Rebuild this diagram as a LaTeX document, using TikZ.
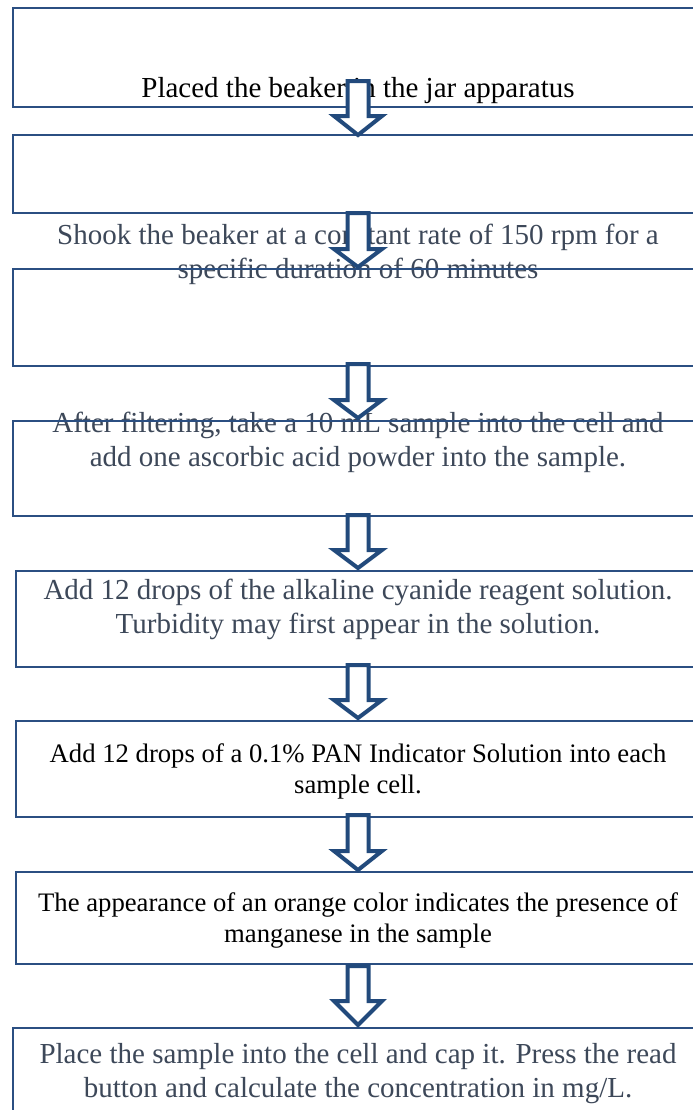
\documentclass[tikz,border=0pt]{standalone}
\usepackage{fontspec}
\setmainfont{Liberation Serif}
\definecolor{boxblue}{HTML}{2B4F82}
\definecolor{arrowblue}{HTML}{224A7C}
\definecolor{textgrey}{HTML}{3D4859}
\tikzset{
  stepbox/.style={draw=boxblue, line width=2.6bp, rectangle, inner sep=0pt, outer sep=0pt,
    anchor=north west, minimum width=700bp},
  steptext/.style={align=center, anchor=base, inner sep=0pt,
    font=\fontsize{29bp}{33.5bp}\selectfont},
  smalltext/.style={steptext, font=\fontsize{26.7bp}{31bp}\selectfont},
  flowarrow/.style={draw=arrowblue, fill=white, line width=4bp, line join=miter}
}
% hollow block arrow: centre x, top of shaft, shoulder, tip (all in px from the top)
\newcommand\blockarrow[4]{%
  \draw[flowarrow] ({#1-10.5},{-#2}) -- ({#1+10.5},{-#2}) -- ({#1+10.5},{-#3})
    -- ({#1+24},{-#3}) -- ({#1},{-#4}) -- ({#1-24},{-#3}) -- ({#1-10.5},{-#3}) -- cycle;}
\begin{document}
\begin{tikzpicture}[x=1bp, y=1bp]
\useasboundingbox[fill=white] (0,0) rectangle (693,-1110);

% step texts (placed by the baseline of their last line)
\node[steptext] (t1) at (358,-97) {Placed the beaker in the jar apparatus};
\node[steptext, text=textgrey] (t2) at (358,-278)
  {Shook the beaker at a constant rate of 150 rpm for a\\specific duration of 60 minutes};
\node[steptext, text=textgrey] (t4) at (358,-466)
  {After filtering, take a 10 mL sample into the cell and\\add one ascorbic acid powder into the sample.};
\node[steptext, text=textgrey] (t5) at (358,-633)
  {Add 12 drops of the alkaline cyanide reagent solution.\\Turbidity may first appear in the solution.};
\node[smalltext] (t6) at (358,-793)
  {Add 12 drops of a 0.1\% PAN Indicator Solution into each\\sample cell.};
\node[smalltext] (t7) at (358,-942)
  {The appearance of an orange color indicates the presence of\\manganese in the sample};
\node[steptext, text=textgrey] (t8) at (358,-1097)
  {Place the sample into the cell and cap it. Press the read\\button and calculate the concentration in mg/L.};

% step boxes
\node[stepbox, minimum height=99bp] (b1) at (13,-8) {};
\node[stepbox, minimum height=78bp] (b2) at (13,-135) {};
\node[stepbox, minimum height=97bp] (b3) at (13,-269) {};
\node[stepbox, minimum height=95bp] (b4) at (13,-421) {};
\node[stepbox, minimum height=96bp] (b5) at (16,-571) {};
\node[stepbox, minimum height=96bp] (b6) at (16,-721) {};
\node[stepbox, minimum height=92bp] (b7) at (16,-872) {};
\node[stepbox, minimum height=100bp] (b8) at (13,-1028) {};

% arrows between the steps
\blockarrow{358}{81}{116}{135}
\blockarrow{358}{213}{249}{267}
\blockarrow{358}{364}{400}{418}
\blockarrow{358}{515}{550}{568}
\blockarrow{358}{665}{700}{718}
\blockarrow{358}{815}{851}{870}
\blockarrow{358}{966}{1001}{1025}
\end{tikzpicture}
\end{document}
